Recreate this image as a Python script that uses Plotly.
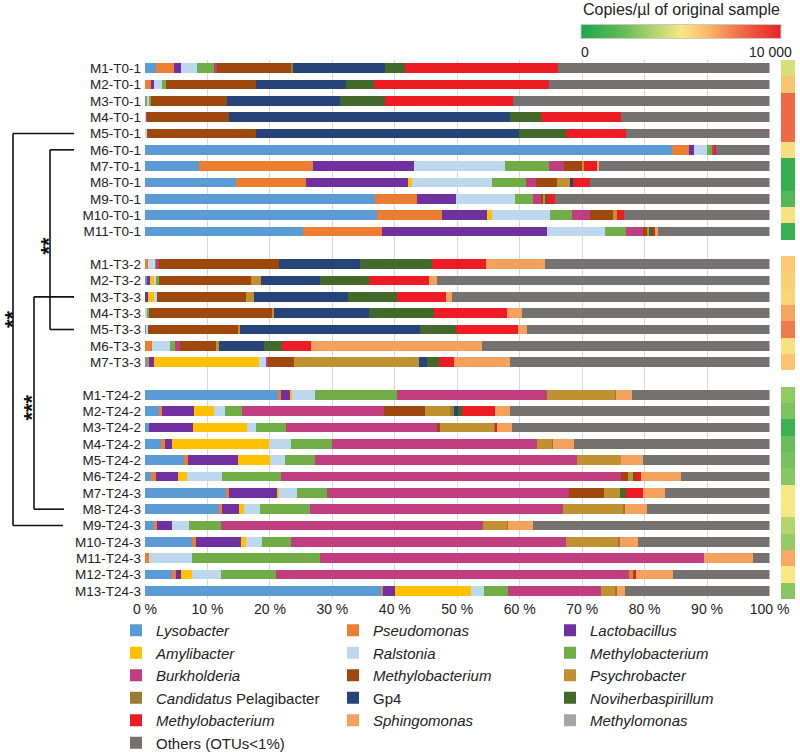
import plotly.graph_objects as go

# ---------------- data ----------------
samples = [
    "M1-T0-1", "M2-T0-1", "M3-T0-1", "M4-T0-1", "M5-T0-1", "M6-T0-1", "M7-T0-1",
    "M8-T0-1", "M9-T0-1", "M10-T0-1", "M11-T0-1",
    "M1-T3-2", "M2-T3-2", "M3-T3-3", "M4-T3-3", "M5-T3-3", "M6-T3-3", "M7-T3-3",
    "M1-T24-2", "M2-T24-2", "M3-T24-2", "M4-T24-2", "M5-T24-2", "M6-T24-2",
    "M7-T24-3", "M8-T24-3", "M9-T24-3", "M10-T24-3", "M11-T24-3", "M12-T24-3", "M13-T24-3",
]
group_sizes = [11, 7, 13]

categories = [
    "<i>Lysobacter</i>", "<i>Pseudomonas</i>", "<i>Lactobacillus</i>",
    "<i>Amylibacter</i>", "<i>Ralstonia</i>", "<i>Methylobacterium</i>",
    "<i>Burkholderia</i>", "<i>Methylobacterium</i>", "<i>Psychrobacter</i>",
    "<i>Candidatus</i> Pelagibacter", "Gp4", "<i>Noviherbaspirillum</i>",
    "<i>Methylobacterium</i>", "<i>Sphingomonas</i>", "<i>Methylomonas</i>",
    "Others (OTUs&lt;1%)",
]
colors = [
    "#5b9bd5", "#ed7d31", "#7030a0", "#ffc000", "#bdd7ee", "#70ad47",
    "#c03e80", "#9e480e", "#bf9130", "#9b7a34", "#264478", "#43682b",
    "#ed1c24", "#f4a15d", "#a5a5a5", "#767171",
]

lysobacter = [1.7, 0, 0.2, 0.1, 0.1, 84.4, 8.6, 14.6, 36.9, 37.2, 25.3,
              0, 0.3, 0, 0.15, 0.3, 0, 0.3,
              21.3, 2.2, 0.6, 2.6, 6.2, 1.0, 12.9, 11.8, 1.5, 7.5, 0, 4.3, 37.9]
pseudomonas = [2.9, 1.0, 0.2, 0, 0, 2.7, 18.3, 11.1, 6.7, 10.3, 12.6,
               0.5, 0, 0, 0, 0, 1.1, 0.4,
               0.4, 0.6, 0, 0.6, 0.7, 0.8, 0.5, 0.6, 0.5, 0.6, 0.7, 0.7, 0.2]
lactobacillus = [1.1, 0.5, 0, 0, 0, 0.8, 16.1, 16.4, 6.2, 7.2, 26.4,
                 0, 0.5, 0.45, 0, 0, 0, 0.8,
                 1.6, 5.1, 7.1, 1.1, 8.0, 3.5, 7.8, 2.7, 2.3, 7.2, 0, 0.7, 1.9]
amylibacter = [0, 0, 0, 0, 0, 0, 0, 0.6, 0, 0.9, 0,
               0, 0.7, 1.05, 0, 0, 0, 16.7,
               0.2, 3.1, 8.6, 15.5, 5.1, 1.5, 0.2, 0.7, 0, 0.9, 0, 1.8, 12.2]
ralstonia = [2.7, 1.2, 0.3, 0.1, 0.2, 2.1, 14.7, 12.8, 9.5, 9.2, 9.4,
             1.2, 0.3, 0.4, 0.3, 0.15, 2.9, 1.1,
             3.7, 1.8, 1.5, 3.6, 2.4, 5.6, 2.9, 2.6, 2.7, 2.6, 6.9, 4.6, 2.1]
methylobacterium_g = [2.6, 0.6, 0.2, 0, 0, 0.8, 7.0, 5.5, 2.8, 3.5, 3.3,
                      0.2, 0.5, 0, 0.15, 0, 0.8, 0,
                      13.2, 2.8, 4.7, 6.6, 4.8, 9.4, 4.9, 8.0, 5.2, 4.5, 20.5, 8.8, 3.8]
burkholderia = [0.6, 0, 0, 0.1, 0, 0.4, 2.4, 1.6, 1.4, 2.9, 2.7,
                0.3, 0, 0, 0, 0, 0.8, 0.4,
                23.9, 22.6, 24.2, 32.7, 41.9, 54.5, 38.7, 40.5, 41.9, 44.1, 61.4, 56.6, 14.9]
methylobacterium_b = [11.9, 14.5, 12.3, 13.2, 17.4, 0, 2.8, 3.4, 0.3, 3.8, 0.7,
                      19.2, 14.7, 14.3, 19.8, 14.55, 5.9, 4.1,
                      0, 6.6, 0.5, 0, 0, 1.0, 5.6, 0, 0, 0, 0, 0, 0]
psychrobacter = [0, 0, 0, 0, 0, 0, 0.4, 2.0, 0.4, 0.5, 0.3,
                 0, 1.5, 1.2, 0.2, 0.25, 0.3, 20.0,
                 11.0, 4.0, 8.7, 2.6, 7.2, 1.0, 2.5, 9.8, 3.9, 8.4, 0, 0.7, 2.4]
pelagibacter = [0.2, 0, 0, 0, 0, 0, 0, 0, 0, 0, 0,
                0, 0, 0, 0, 0, 0, 0,
                0.1, 0.6, 0.3, 0.1, 0, 0, 0, 0.1, 0.1, 0.2, 0, 0, 0.1]
gp4 = [14.8, 14.4, 18.1, 44.9, 42.2, 0, 0, 0.6, 0, 0, 0,
       13.0, 9.6, 15.1, 15.2, 28.85, 7.2, 1.4,
       0, 0.7, 0, 0, 0, 0, 0, 0, 0, 0, 0, 0, 0]
noviherbaspirillum = [3.2, 4.4, 7.2, 5.0, 7.5, 0, 0, 0, 0.2, 0, 0.6,
                      11.6, 7.8, 7.8, 10.4, 5.7, 2.9, 1.8,
                      0, 0.6, 0, 0, 0, 0.2, 0.95, 0, 0, 0, 0, 0, 0]
methylobacterium_r = [24.5, 28.1, 20.4, 12.8, 9.6, 0.3, 2.1, 2.6, 1.2, 1.2, 0.5,
                      8.6, 9.5, 7.9, 11.7, 9.9, 4.7, 2.5,
                      0, 5.3, 0.2, 0, 0, 1.0, 2.75, 0, 0, 0, 0, 0.4, 0]
sphingomonas = [0, 0, 0, 0, 0, 0, 0.3, 0, 0, 0, 0.3,
                9.4, 1.4, 1.0, 2.4, 1.5, 27.4, 8.9,
                2.6, 2.4, 2.4, 3.3, 3.4, 6.3, 3.6, 3.6, 4.0, 3.0, 7.8, 6.0, 1.3]
methylomonas = [0] * 31
others = [33.8, 35.3, 41.1, 23.8, 23.0, 8.5, 27.3, 28.8, 34.4, 23.3, 17.9,
          36.0, 53.2, 50.8, 39.7, 38.8, 46.0, 41.6,
          22.0, 41.6, 41.2, 31.3, 20.3, 14.2, 16.7, 19.6, 37.9, 21.0, 2.7, 15.4, 23.2]

series = [lysobacter, pseudomonas, lactobacillus, amylibacter, ralstonia,
          methylobacterium_g, burkholderia, methylobacterium_b, psychrobacter,
          pelagibacter, gp4, noviherbaspirillum, methylobacterium_r,
          sphingomonas, methylomonas, others]

# copies/µl of original sample (heat strip)
copies = [4400, 6000, 8100, 8100, 8100, 5300, 800, 800, 1700, 5200, 900,
          5800, 5700, 5500, 6700, 7700, 5200, 6000,
          3000, 2600, 1000, 2200, 2500, 2800, 5000, 5000, 3700, 3100, 6650, 5000, 2800]

x_ticks = list(range(0, 101, 10))

# ---------------- layout helpers ----------------
slots = []
pos = 0
for n in group_sizes:
    for _ in range(n):
        slots.append(pos)
        pos += 1
    pos += 1
n_slots = pos - 1

W, H = 800, 752
L, R, T, B = 145, 5, 60, 153
PW, PH = W - L - R, H - T - B


def px_x(px):
    return (px - L) / PW


def px_y(py):
    return (H - B - py) / PH


def slot_y(s):
    return 1 - (s + 0.5) / n_slots


colorscale = [
    [0.0, "#1aa84b"], [0.2, "#5fba58"], [0.38, "#b8d66f"], [0.5, "#f7e884"],
    [0.62, "#fbbd6c"], [0.8, "#ee6d45"], [1.0, "#e82129"],
]

fig = go.Figure()

for name, col, vals in zip(categories, colors, series):
    fig.add_trace(go.Bar(
        y=slots, x=vals, orientation="h", name=name, width=0.61,
        marker=dict(color=col, line=dict(width=0)),
    ))

zcol = [[None] for _ in range(n_slots)]
for s, v in zip(slots, copies):
    zcol[s] = [v]
fig.add_trace(go.Heatmap(
    z=zcol, x=[0], y=list(range(n_slots)), xaxis="x2", yaxis="y",
    colorscale=colorscale, zmin=0, zmax=10000, showlegend=False, hoverongaps=False,
    colorbar=dict(
        orientation="h",
        x=px_x(681), xanchor="center", y=px_y(32), yanchor="middle",
        len=200 / PW, lenmode="fraction", thickness=14, xpad=0, ypad=0,
        outlinewidth=1, outlinecolor="#c8c8c8", showticklabels=False, ticks="",
    ),
))

font_fam = "Arial, Liberation Sans, sans-serif"
txt = "#222222"

shapes = []


def line(x0, y0, x1, y1):
    shapes.append(dict(type="line", xref="paper", yref="paper", x0=x0, y0=y0, x1=x1, y1=y1,
                       line=dict(color="#111111", width=1.6)))


# outer bracket (T0 vs T24)
line(px_x(13), slot_y(4), px_x(13), slot_y(28))
line(px_x(13), slot_y(4), px_x(74), slot_y(4))
line(px_x(13), slot_y(28), px_x(63), slot_y(28))
# inner bracket 1 (T0 vs T3)
line(px_x(50), slot_y(5), px_x(50), slot_y(16))
line(px_x(50), slot_y(5), px_x(74), slot_y(5))
line(px_x(50), slot_y(16), px_x(74), slot_y(16))
# inner bracket 2 (T3 vs T24)
line(px_x(34), slot_y(14), px_x(34), slot_y(27))
line(px_x(34), slot_y(14), px_x(74), slot_y(14))
line(px_x(34), slot_y(27), px_x(64), slot_y(27))

star_font = dict(size=22, color="#111111", family=font_fam)
annotations = [
    dict(text="<b>**</b>", x=px_x(12), y=px_y(319), xref="paper", yref="paper", showarrow=False,
         xanchor="center", yanchor="middle", textangle=-90, font=star_font),
    dict(text="<b>**</b>", x=px_x(47.5), y=px_y(246), xref="paper", yref="paper", showarrow=False,
         xanchor="center", yanchor="middle", textangle=-90, font=star_font),
    dict(text="<b>***</b>", x=px_x(31.5), y=px_y(408), xref="paper", yref="paper", showarrow=False,
         xanchor="center", yanchor="middle", textangle=-90, font=star_font),
    dict(text="Copies/µl of original sample", x=px_x(681), y=px_y(10), xref="paper", yref="paper",
         showarrow=False, xanchor="center", yanchor="middle",
         font=dict(size=16, color=txt, family=font_fam)),
    dict(text="0", x=px_x(579), y=px_y(52), xref="paper", yref="paper",
         showarrow=False, xanchor="left", yanchor="middle",
         font=dict(size=14, color=txt, family=font_fam)),
    dict(text="10 000", x=px_x(794), y=px_y(52), xref="paper", yref="paper",
         showarrow=False, xanchor="right", yanchor="middle",
         font=dict(size=14, color=txt, family=font_fam)),
]

fig.update_layout(
    width=W, height=H,
    margin=dict(l=L, r=R, t=T, b=B, pad=0, autoexpand=False),
    paper_bgcolor="white", plot_bgcolor="white",
    barmode="stack", bargap=0,
    font=dict(family=font_fam, color=txt),
    xaxis=dict(domain=[0, (769.5 - L) / PW], range=[0, 100], tickvals=x_ticks,
               ticktext=[f"{v} %" for v in x_ticks], showgrid=True, gridcolor="#d9d9d9",
               gridwidth=1, zeroline=False, showline=False, ticks="",
               tickfont=dict(size=14, color=txt), fixedrange=True),
    xaxis2=dict(domain=[(781 - L) / PW, 1.0], range=[-0.5, 0.5], anchor="y",
                showticklabels=False, showgrid=False, zeroline=False, ticks=""),
    yaxis=dict(range=[n_slots - 0.5, -0.5], tickvals=slots, ticktext=samples,
               showgrid=False, zeroline=False, showline=False, ticks="",
               tickfont=dict(size=13.5, color=txt), ticklabelstandoff=3),
    legend=dict(orientation="h", x=px_x(116), xanchor="left", y=px_y(614), yanchor="top",
                entrywidth=172, entrywidthmode="pixels", traceorder="normal",
                font=dict(size=15, color=txt, family=font_fam),
                bgcolor="rgba(0,0,0,0)", borderwidth=0),
    shapes=shapes,
    annotations=annotations,
    showlegend=True,
)

fig.write_html("out.html", config={"displayModeBar": False},
               post_script="document.body.style.margin='0px';")
